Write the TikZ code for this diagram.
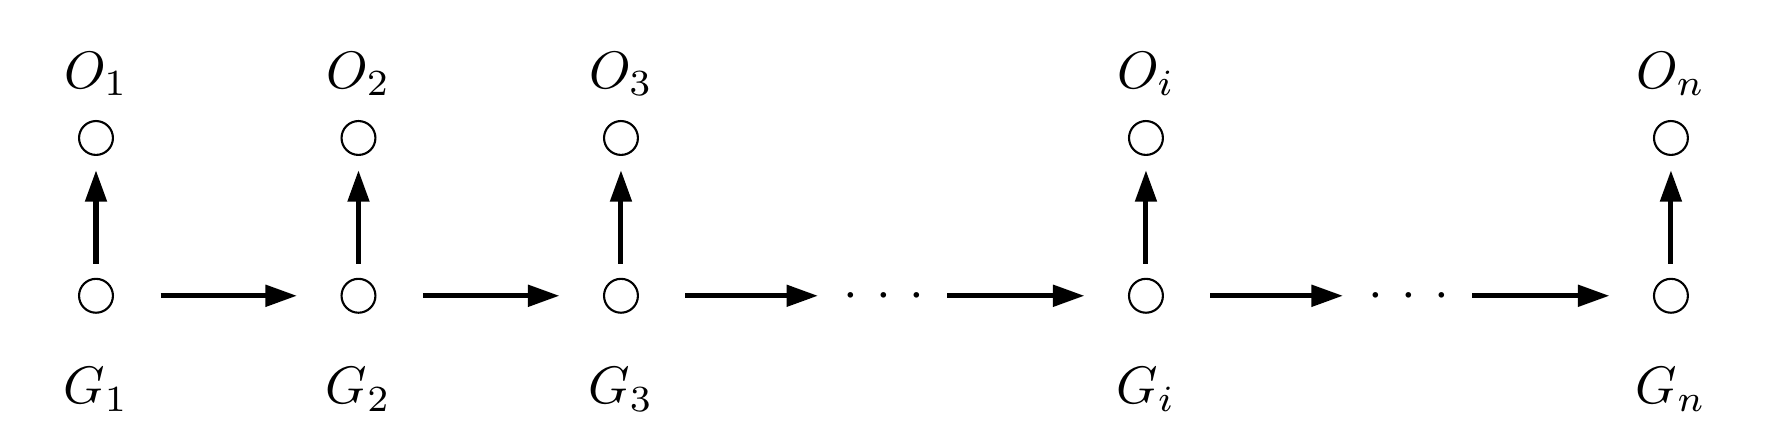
\documentclass[tikz,border=0pt]{standalone}
\usepackage{amsmath}
\usepackage{amssymb}
\usepackage{tikz}
\usetikzlibrary{arrows.meta}
\tikzset{state/.style={circle,draw,line width=0.4pt,inner sep=0pt,minimum size=2.26mm},
 dotsnode/.style={inner sep=0pt,text height=5pt,text depth=0pt},
 flow/.style={line width=0.95pt,-{Triangle[length=2.1mm,width=1.4mm]}},
 stepright/.style={flow,shorten <=3.1mm,shorten >=2.9mm},
 }

\begin{document}
\begin{tikzpicture}
        \useasboundingbox (0,0) rectangle (11.867,2.92);
        \foreach \n/\x in {1/0.64, 2/2.39, 3/4.14, i/7.64, n/11.14} {
            \node[state] (g\n) at (\x, 0.948) {};
            \node[state] (o\n) at (\x, 2.0) {};
            \node[anchor=base] (lo\n) at (\x, 2.333) {$O_{\n}$};
            \node[anchor=base] (lg\n) at (\x, 0.227) {$G_{\n}$};
            \draw[flow, shorten <=0.95mm, shorten >=0.95mm] (g\n) -- (o\n);
        }
        \node[dotsnode] (d1) at (5.89, 0.948) {${\cdot}\hspace{3.5pt}{\cdot}\hspace{3.5pt}{\cdot}$};
        \node[dotsnode] (d2) at (9.39, 0.948) {${\cdot}\hspace{3.5pt}{\cdot}\hspace{3.5pt}{\cdot}$};
        \draw[stepright] (g1) -- (g2);
        \draw[stepright] (g2) -- (g3);
        \draw[stepright, shorten >=1.6mm] (g3) -- (d1);
        \draw[stepright, shorten <=1.5mm] (d1) -- (gi);
        \draw[stepright, shorten >=1.6mm] (gi) -- (d2);
        \draw[stepright, shorten <=1.5mm] (d2) -- (gn);
    \end{tikzpicture}
\end{document}
